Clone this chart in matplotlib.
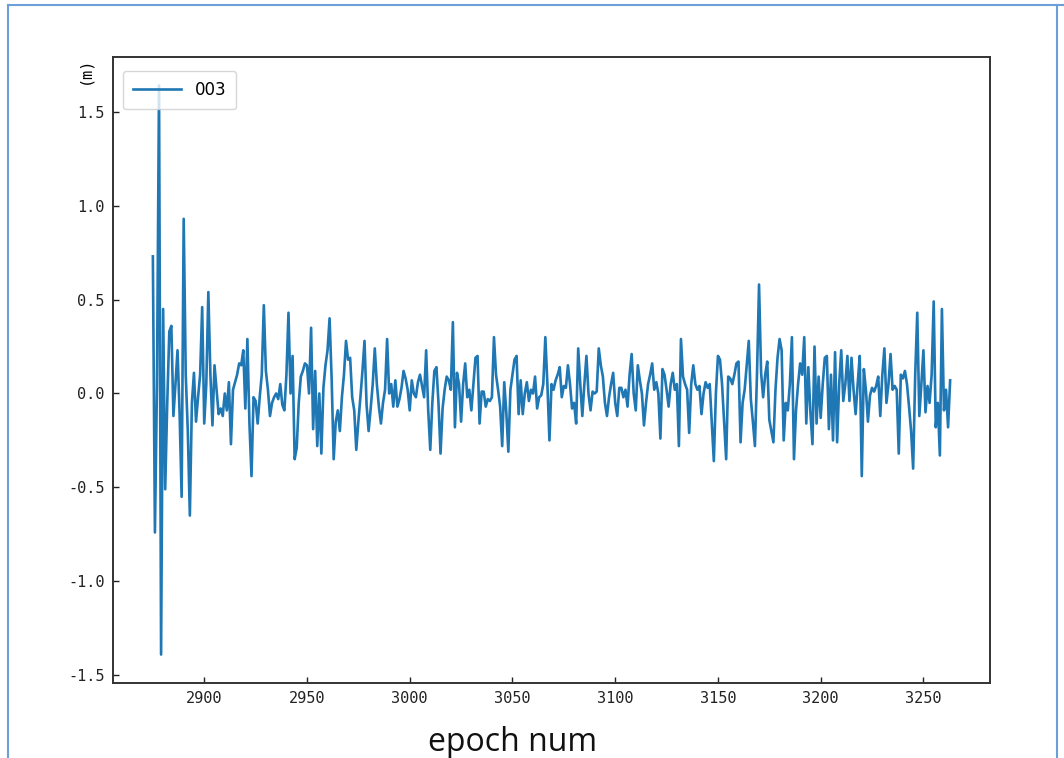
import matplotlib
matplotlib.use('Agg')
import matplotlib.pyplot as plt
import numpy as np
from matplotlib.lines import Line2D

# datos: residuo por epoca (m), una muestra por epoca desde 2875
epoca_inicio = 2875
residuos = [
    0.73, -0.74, 0.05, 1.64, -1.39, 0.45, -0.51, -0.05, 0.33, 0.36,      # 2875
    -0.12, 0.05, 0.23, -0.10, -0.55, 0.93, 0.10, -0.20, -0.65, -0.05,    # 2885
    0.11, -0.15, -0.02, 0.10, 0.46, -0.16, 0.05, 0.54, 0.10, -0.17,      # 2895
    0.15, 0.02, -0.11, -0.08, -0.12, 0.00, -0.09, 0.06, -0.27, 0.02,     # 2905
    0.06, 0.10, 0.16, 0.15, 0.23, -0.08, 0.29, -0.16, -0.44, -0.02,      # 2915
    -0.04, -0.16, -0.02, 0.10, 0.47, 0.12, 0.02, -0.12, -0.05, -0.02,    # 2925
    0.00, -0.03, 0.05, -0.06, -0.09, 0.10, 0.43, 0.00, 0.20, -0.35,      # 2935
    -0.29, -0.05, 0.09, 0.12, 0.16, 0.15, 0.00, 0.35, -0.19, 0.12,       # 2945
    -0.28, 0.00, -0.32, 0.03, 0.15, 0.23, 0.40, 0.08, -0.35, -0.15,      # 2955
    -0.09, -0.20, -0.02, 0.10, 0.28, 0.18, 0.19, -0.02, -0.09, -0.30,    # 2965
    -0.15, -0.02, 0.12, 0.28, -0.06, -0.20, -0.08, 0.05, 0.24, 0.05,     # 2975
    -0.07, -0.16, -0.05, 0.02, 0.29, 0.00, 0.05, -0.07, 0.07, -0.07,     # 2985
    -0.03, 0.03, 0.12, 0.08, 0.02, -0.09, 0.07, 0.00, -0.02, 0.06,       # 2995
    0.10, 0.04, -0.02, 0.23, -0.09, -0.30, -0.05, 0.12, 0.14, -0.05,     # 3005
    -0.32, -0.08, 0.02, 0.09, 0.07, 0.02, 0.38, -0.18, 0.11, 0.05,       # 3015
    -0.15, 0.05, 0.16, -0.02, 0.02, -0.09, 0.05, 0.19, 0.20, -0.16,      # 3025
    0.01, 0.01, -0.07, -0.03, -0.04, -0.02, 0.30, 0.10, 0.02, -0.07,     # 3035
    -0.28, 0.06, -0.10, -0.31, 0.02, 0.10, 0.18, 0.20, -0.11, 0.07,      # 3045
    -0.11, 0.00, 0.06, -0.04, 0.02, 0.00, 0.09, -0.08, -0.02, -0.01,     # 3055
    0.05, 0.30, 0.05, -0.25, 0.05, 0.02, 0.07, 0.10, 0.14, -0.02,        # 3065
    0.04, 0.03, 0.15, 0.05, -0.08, -0.05, -0.16, 0.24, 0.05, -0.12,      # 3075
    0.05, 0.20, 0.00, -0.09, 0.01, 0.00, 0.01, 0.24, 0.15, 0.09,         # 3085
    -0.05, -0.12, -0.02, 0.05, 0.11, -0.05, -0.12, 0.03, 0.03, -0.02,    # 3095
    0.02, -0.07, 0.10, 0.21, 0.00, -0.09, 0.15, 0.07, 0.00, -0.17,       # 3105
    -0.05, 0.05, 0.10, 0.16, 0.02, 0.06, 0.00, -0.24, 0.13, 0.10,        # 3115
    0.02, -0.07, 0.05, 0.11, 0.02, 0.05, -0.28, 0.29, 0.09, 0.05,        # 3125
    0.02, -0.21, 0.05, 0.15, 0.05, 0.02, 0.04, -0.11, 0.00, 0.06,        # 3135
    0.03, 0.05, -0.15, -0.36, 0.00, 0.20, 0.18, 0.05, -0.15, -0.35,      # 3145
    0.09, 0.08, 0.05, 0.10, 0.16, 0.17, -0.26, -0.05, 0.02, 0.15,        # 3155
    0.28, -0.03, -0.15, -0.28, 0.10, 0.58, 0.11, -0.02, 0.10, 0.17,      # 3165
    -0.14, -0.20, -0.26, 0.02, 0.19, 0.29, 0.23, -0.25, -0.05, -0.09,    # 3175
    0.05, 0.30, -0.35, -0.09, 0.05, 0.16, 0.10, 0.30, -0.16, 0.14,       # 3185
    -0.10, -0.27, 0.25, -0.16, 0.09, -0.13, 0.05, 0.19, 0.20, -0.19,     # 3195
    0.10, -0.25, 0.22, -0.26, 0.05, 0.23, -0.04, 0.05, 0.20, -0.04,      # 3205
    0.19, 0.02, -0.11, 0.05, 0.20, -0.44, 0.13, 0.02, -0.15, -0.01,      # 3215
    0.03, 0.01, 0.04, 0.09, -0.12, 0.10, 0.24, -0.05, 0.05, 0.21,        # 3225
    0.02, 0.04, 0.02, -0.32, 0.10, 0.08, 0.12, 0.05, -0.07, -0.20,       # 3235
    -0.40, 0.10, 0.43, -0.12, 0.05, 0.23, -0.10, 0.04, -0.05, 0.10,      # 3245
    0.49, -0.18, -0.05, -0.33, 0.45, -0.09, 0.02, -0.18, 0.07,           # 3255
]
etiqueta = '003'
ticks_x = [2900, 2950, 3000, 3050, 3100, 3150, 3200, 3250]
ticks_y = [-1.5, -1.0, -0.5, 0.0, 0.5, 1.0, 1.5]

epocas = np.arange(epoca_inicio, epoca_inicio + len(residuos))

plt.rcParams['font.family'] = ['DejaVu Sans Mono']
plt.rcParams['axes.unicode_minus'] = False

fig = plt.figure(figsize=(10.64, 7.58), dpi=100)
ax = fig.add_axes([113 / 1064, 75 / 758, 877 / 1064, 626 / 758])

# serie
ax.plot(epocas, residuos, color='#1f77b4', linewidth=1.9, label=etiqueta)

ax.set_xticks(ticks_x)
ax.set_yticks(ticks_y)
ax.tick_params(direction='in', length=4, width=1, labelsize=11, pad=6, colors='#222222')
for s in ax.spines.values():
    s.set_linewidth(1.4)
    s.set_color('#333333')

ax.set_ylabel('(m)', loc='top', fontsize=11)
ax.yaxis.set_label_coords(-0.024, 1.0)
ax.legend(loc='upper left', bbox_to_anchor=(10 / 877, 1 - 14 / 626), borderaxespad=0,
          prop={'family': 'DejaVu Sans', 'size': 12}, handlelength=2.9, borderpad=0.6)

# texto de abajo (cortado por el borde)
fig.text(513 / 1064, 7 / 758, 'epoch num', ha='center', va='baseline',
         fontsize=23, family='Open Sans', color='#111111')

# borde azul de la captura
azul = '#6a9fd8'
fig.add_artist(Line2D([8 / 1064, 8 / 1064], [0, 1 - 5 / 758], transform=fig.transFigure, color=azul, lw=1.5))
fig.add_artist(Line2D([8 / 1064, 1], [1 - 5 / 758, 1 - 5 / 758], transform=fig.transFigure, color=azul, lw=1.5))
fig.add_artist(Line2D([1057 / 1064, 1057 / 1064], [0, 1 - 5 / 758], transform=fig.transFigure, color=azul, lw=1.5))

plt.savefig('out.png', dpi=100)
